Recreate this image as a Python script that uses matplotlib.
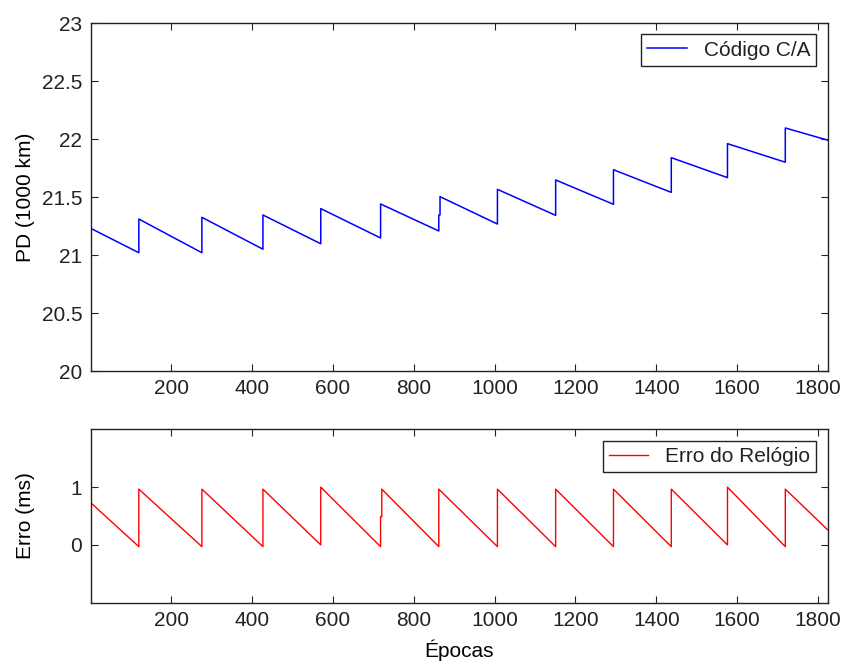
import matplotlib
matplotlib.use("Agg")
import matplotlib.pyplot as plt
from matplotlib.ticker import FormatStrFormatter

# vertices of the sawtooth curves (epoch, value)
pd_epochs = [1, 120, 120, 276, 276, 427, 427, 570, 570, 718, 718, 862, 862, 865, 865,
             1007, 1007, 1151, 1151, 1294, 1294, 1437, 1437, 1576, 1576, 1719, 1719, 1824]
pd_values = [21.23, 21.02, 21.31, 21.02, 21.325, 21.05, 21.345, 21.097, 21.40, 21.147, 21.44,
             21.207, 21.345, 21.345, 21.503, 21.267, 21.566, 21.342, 21.647, 21.437, 21.735,
             21.54, 21.839, 21.667, 21.96, 21.80, 22.095, 21.99]

clk_epochs = [1, 120, 120, 276, 276, 427, 427, 570, 570, 718, 718, 721, 721,
              862, 862, 1007, 1007, 1151, 1151, 1294, 1294, 1437, 1437, 1576, 1576,
              1719, 1719, 1824]
clk_values = [0.73, -0.03, 0.965, -0.03, 0.965, -0.03, 0.965, 0.0, 1.0, -0.03, 0.49, 0.49, 0.965,
              -0.03, 0.965, -0.03, 0.965, -0.03, 0.965, -0.03, 0.965, -0.03, 0.965, 0.0, 1.0,
              -0.03, 0.965, 0.26]

x_ticks = [200, 400, 600, 800, 1000, 1200, 1400, 1600, 1800]
pd_ticks = [20, 20.5, 21, 21.5, 22, 22.5, 23]
clk_ticks = [0, 1]

plt.rcParams['font.family'] = ['Liberation Sans', 'DejaVu Sans']
plt.rcParams['font.size'] = 15
plt.rcParams['axes.edgecolor'] = '#222222'
plt.rcParams['text.color'] = '#222222'
plt.rcParams['xtick.color'] = '#222222'
plt.rcParams['ytick.color'] = '#222222'

fig = plt.figure(figsize=(8.43, 6.61), dpi=100)
ax1 = fig.add_axes([0.1076, 0.4387, 0.8743, 0.5265])
ax2 = fig.add_axes([0.1076, 0.0882, 0.8743, 0.2623])

ax1.plot(pd_epochs, pd_values, color='#0000ff', lw=1.1, label='Código C/A')
ax2.plot(clk_epochs, clk_values, color='#ff0000', lw=1.0, label='Erro do Relógio')

ax1.set_ylim(20, 23)
ax1.set_yticks(pd_ticks)
ax1.yaxis.set_major_formatter(FormatStrFormatter('%g'))
ax2.set_ylim(-1, 2)
ax2.set_yticks(clk_ticks)

for ax in (ax1, ax2):
    ax.set_xlim(1, 1824)
    ax.set_xticks(x_ticks)
    ax.tick_params(direction='in', top=True, right=True, length=5, width=0.8, pad=6)
    for s in ax.spines.values():
        s.set_linewidth(1.0)
    leg = ax.legend(loc='upper right', fancybox=False, framealpha=1, edgecolor='#222222',
                    handlelength=1.9, handletextpad=0.8, borderaxespad=0.55, borderpad=0.3)
    leg.get_frame().set_linewidth(1.0)

ax1.set_ylabel('PD (1000 km)')
ax1.yaxis.set_label_coords(-0.076, 0.5)
ax2.set_ylabel('Erro (ms)')
ax2.yaxis.set_label_coords(-0.076, 0.5)
ax2.set_xlabel('Épocas')
ax2.xaxis.set_label_coords(0.5, -0.21)

fig.savefig('out.png', dpi=100)
